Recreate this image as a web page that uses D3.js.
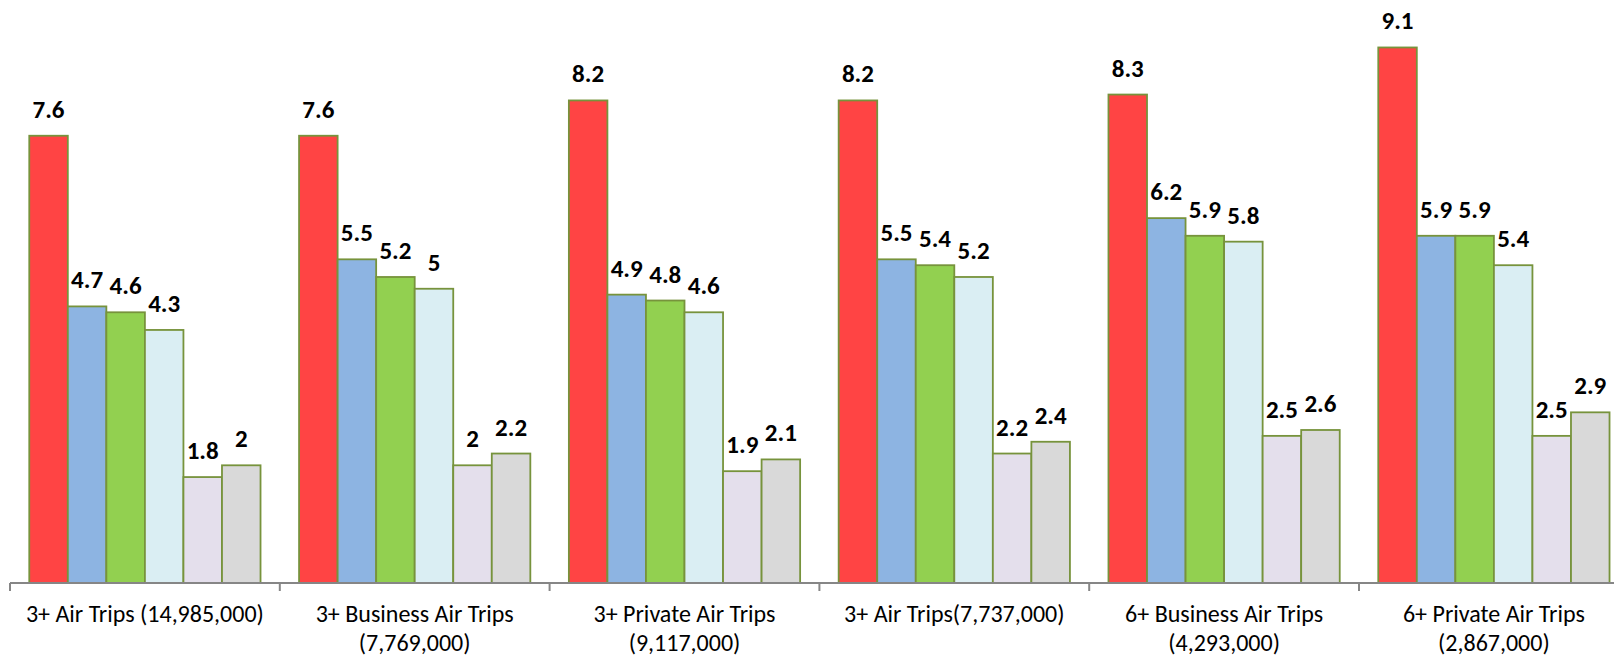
<!DOCTYPE html>
<html>
<head>
<meta charset="utf-8">
<script src="https://cdn.jsdelivr.net/npm/d3@7"></script>
<style>
  html, body { margin: 0; padding: 0; background: #fff; }
  svg { display: block; }
</style>
</head>
<body>
<svg id="chart" width="1614" height="656"></svg>
<script>
// ---- data ----
const categories = [
  "3+ Air Trips (14,985,000)",
  "3+ Business Air Trips\n(7,769,000)",
  "3+ Private Air Trips\n(9,117,000)",
  "3+ Air Trips(7,737,000)",
  "6+ Business Air Trips\n(4,293,000)",
  "6+ Private Air Trips\n(2,867,000)"
];
const seriesNames = ["Series 1", "Series 2", "Series 3", "Series 4", "Series 5", "Series 6"];
const series1 = [7.6, 7.6, 8.2, 8.2, 8.3, 9.1];
const series2 = [4.7, 5.5, 4.9, 5.5, 6.2, 5.9];
const series3 = [4.6, 5.2, 4.8, 5.4, 5.9, 5.9];
const series4 = [4.3, 5.0, 4.6, 5.2, 5.8, 5.4];
const series5 = [1.8, 2.0, 1.9, 2.2, 2.5, 2.5];
const series6 = [2.0, 2.2, 2.1, 2.4, 2.6, 2.9];
const seriesColors = ["#FF4444", "#8DB4E2", "#92D050", "#DAEEF3", "#E4DFEC", "#D9D9D9"];

const allSeries = [series1, series2, series3, series4, series5, series6];

// ---- layout ----
const svg = d3.select("#chart");
const W = 1614, H = 656;
const axisY = 583;
const bandW = 269.8;
const x0 = 10;

const x = d3.scaleBand()
  .domain(categories)
  .range([x0, x0 + bandW * categories.length])
  .paddingInner(0).paddingOuter(0);

const bw = x.bandwidth();
const x1 = d3.scaleBand()
  .domain(seriesNames)
  .range([bw / 14, bw - bw / 14])
  .padding(0);

const y = d3.scaleLinear().domain([0, 10]).range([axisY, axisY - 588.5]);

const labelFont = "Carlito, Lato, 'Open Sans', sans-serif";

// ---- bars ----
const groups = svg.append("g").selectAll("g")
  .data(categories)
  .join("g")
  .attr("transform", d => `translate(${x(d)},0)`);

groups.each(function(cat, ci) {
  const g = d3.select(this);
  const rows = seriesNames.map((s, si) => ({ s, si, v: allSeries[si][ci] }));
  g.selectAll("rect")
    .data(rows)
    .join("rect")
    .attr("x", d => x1(d.s))
    .attr("y", d => y(d.v))
    .attr("width", x1.bandwidth())
    .attr("height", d => axisY - y(d.v))
    .attr("fill", d => seriesColors[d.si])
    .attr("stroke", "#77933C")
    .attr("stroke-width", 1.8);
  g.selectAll("text")
    .data(rows)
    .join("text")
    .attr("x", d => x1(d.s) + x1.bandwidth() / 2)
    .attr("y", d => y(d.v) - 18)
    .attr("text-anchor", "middle")
    .attr("font-family", labelFont)
    .attr("font-weight", "bold")
    .attr("font-size", 25)
    .attr("fill", "#000")
    .text(d => d.v);
});

// ---- axis ----
const axis = svg.append("g");
axis.append("line")
  .attr("x1", x0).attr("x2", W)
  .attr("y1", axisY).attr("y2", axisY)
  .attr("stroke", "#868686").attr("stroke-width", 2);

const tickPos = categories.map(c => x(c)).concat([x.range()[1]]);
axis.selectAll("line.tick")
  .data(tickPos)
  .join("line")
  .attr("class", "tick")
  .attr("x1", d => d).attr("x2", d => d)
  .attr("y1", axisY).attr("y2", axisY + 8)
  .attr("stroke", "#868686").attr("stroke-width", 2);

const catLabels = axis.selectAll("text.cat")
  .data(categories)
  .join("text")
  .attr("class", "cat")
  .attr("text-anchor", "middle")
  .attr("font-family", labelFont)
  .attr("font-size", 24)
  .attr("fill", "#000");

catLabels.each(function(d) {
  const t = d3.select(this);
  d.split("\n").forEach((line, i) => {
    t.append("tspan")
      .attr("x", x(d) + bw / 2)
      .attr("y", 622 + i * 29)
      .text(line);
  });
});
</script>
</body>
</html>
